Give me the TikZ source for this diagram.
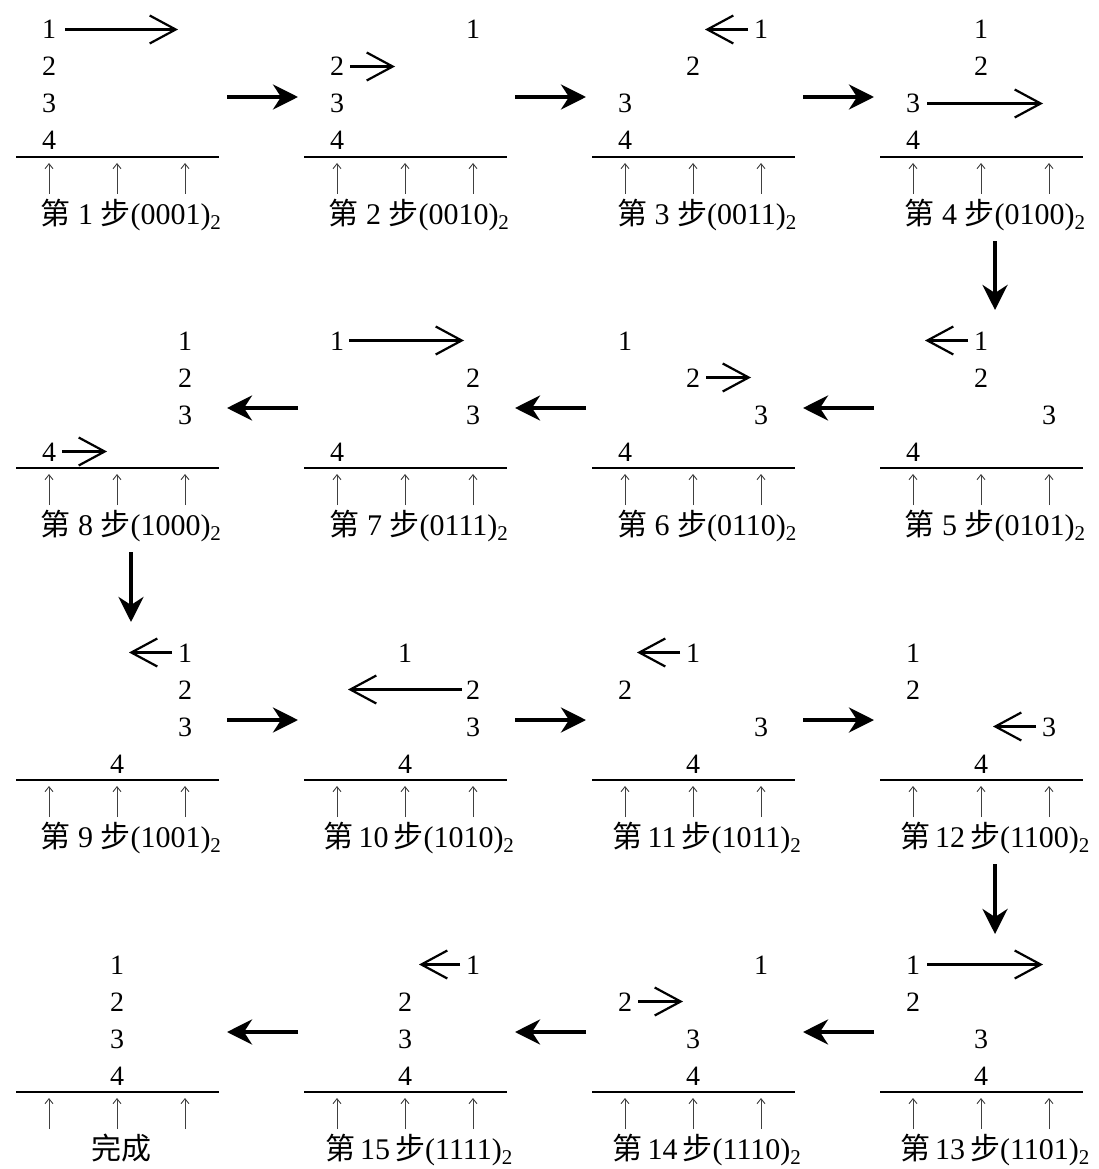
\documentclass[tikz,border=0pt]{standalone}
\usepackage{fontspec}
\setmainfont{Liberation Serif}
\newfontfamily\cjk{Noto Sans CJK SC}
\usetikzlibrary{arrows.meta}
\tikzset{
  baseln/.style={line width=2.5pt},
  pegarr/.style={line width=0.9pt, black!75, -{Straight Barb[length=5pt,width=8pt,line width=0.9pt]}},
  disk/.style={inner sep=0pt, anchor=base, font=\fontsize{28}{30}\selectfont},
  lab/.style={inner sep=0pt, anchor=base, font=\fontsize{30}{33}\selectfont},
  mv/.style={line width=2.2pt, -{Straight Barb[length=26pt,width=28pt,line width=2.2pt]}},
  big/.style={line width=4pt, -{Stealth[length=25pt,width=25pt,inset=8pt]}},
}
% #1 name, #2 x0, #3 line y, #4-#7 peg index of disks 1..4, #8 label x offset
\newcommand\hpanel[8]{%
  \draw[baseln] (#2,#3) -- ++(203,0);
  \foreach \p in {0,1,2} \draw[pegarr] (#2+33+68*\p,#3+37) -- (#2+33+68*\p,#3+6);
  \node[disk] (#1-1) at (#2+33+68*#4,#3-118) {1};
  \node[disk] (#1-2) at (#2+33+68*#5,#3-81) {2};
  \node[disk] (#1-3) at (#2+33+68*#6,#3-44) {3};
  \node[disk] (#1-4) at (#2+33+68*#7,#3-7) {4};
  \coordinate (#1-e) at (#2+211,#3-60);
  \coordinate (#1-w) at (#2-6,#3-60);
  \coordinate (#1-s) at (#2+115,#3+84);
  \coordinate (#1-n) at (#2+115,#3-158);
  \node[lab] (#1-lab) at (#2+#8,#3+67)}
\newcommand\mv[3]{\draw[mv] ([xshift=#2pt,yshift=9.5pt]#1.base) -- ([xshift=#3pt,yshift=9.5pt]#1.base);}
\newcommand\step[2]{{\cjk 第}~#1~{\cjk 步}(#2)\textsubscript{2}}
\newcommand\stepw[2]{{\cjk 第}\,#1\,{\cjk 步}(#2)\textsubscript{2}}
\begin{document}
\begin{tikzpicture}[x=1pt,y=-1pt]
\useasboundingbox (0,0) rectangle (1099,1169);
% row 0
\hpanel{s1}{16}{157}{0}{0}{0}{0}{115}{\step{1}{0001}};
\hpanel{s2}{304}{157}{2}{0}{0}{0}{115}{\step{2}{0010}};
\hpanel{s3}{592}{157}{2}{1}{0}{0}{115}{\step{3}{0011}};
\hpanel{s4}{880}{157}{1}{1}{0}{0}{115}{\step{4}{0100}};
% row 1
\hpanel{s5}{880}{468}{1}{1}{2}{0}{115}{\step{5}{0101}};
\hpanel{s6}{592}{468}{0}{1}{2}{0}{115}{\step{6}{0110}};
\hpanel{s7}{304}{468}{0}{2}{2}{0}{115}{\step{7}{0111}};
\hpanel{s8}{16}{468}{2}{2}{2}{0}{115}{\step{8}{1000}};
% row 2
\hpanel{s9}{16}{780}{2}{2}{2}{1}{115}{\step{9}{1001}};
\hpanel{s10}{304}{780}{1}{2}{2}{1}{115}{\stepw{10}{1010}};
\hpanel{s11}{592}{780}{1}{0}{2}{1}{115}{\stepw{11}{1011}};
\hpanel{s12}{880}{780}{0}{0}{2}{1}{115}{\stepw{12}{1100}};
% row 3
\hpanel{s13}{880}{1092}{0}{0}{1}{1}{115}{\stepw{13}{1101}};
\hpanel{s14}{592}{1092}{2}{0}{1}{1}{115}{\stepw{14}{1110}};
\hpanel{s15}{304}{1092}{2}{1}{1}{1}{115}{\stepw{15}{1111}};
\hpanel{s16}{16}{1092}{1}{1}{1}{1}{105}{\cjk 完成};
% disk moves
\mv{s1-1}{16}{129}
\mv{s2-2}{13}{58}
\mv{s3-1}{-13}{-56}
\mv{s4-3}{14}{130}
\mv{s5-1}{-13}{-56}
\mv{s6-2}{13}{58}
\mv{s7-1}{12}{127}
\mv{s8-4}{13}{58}
\mv{s9-1}{-13}{-56}
\mv{s10-2}{-11}{-125}
\mv{s11-1}{-13}{-56}
\mv{s12-3}{-13}{-56}
\mv{s13-1}{14}{130}
\mv{s14-2}{13}{58}
\mv{s15-1}{-13}{-54}
% flow arrows
\draw[big] (s1-e) -- (s2-w);
\draw[big] (s2-e) -- (s3-w);
\draw[big] (s3-e) -- (s4-w);
\draw[big] (s4-s) -- (s5-n);
\draw[big] (s5-w) -- (s6-e);
\draw[big] (s6-w) -- (s7-e);
\draw[big] (s7-w) -- (s8-e);
\draw[big] (s8-s) -- (s9-n);
\draw[big] (s9-e) -- (s10-w);
\draw[big] (s10-e) -- (s11-w);
\draw[big] (s11-e) -- (s12-w);
\draw[big] (s12-s) -- (s13-n);
\draw[big] (s13-w) -- (s14-e);
\draw[big] (s14-w) -- (s15-e);
\draw[big] (s15-w) -- (s16-e);
\end{tikzpicture}
\end{document}
